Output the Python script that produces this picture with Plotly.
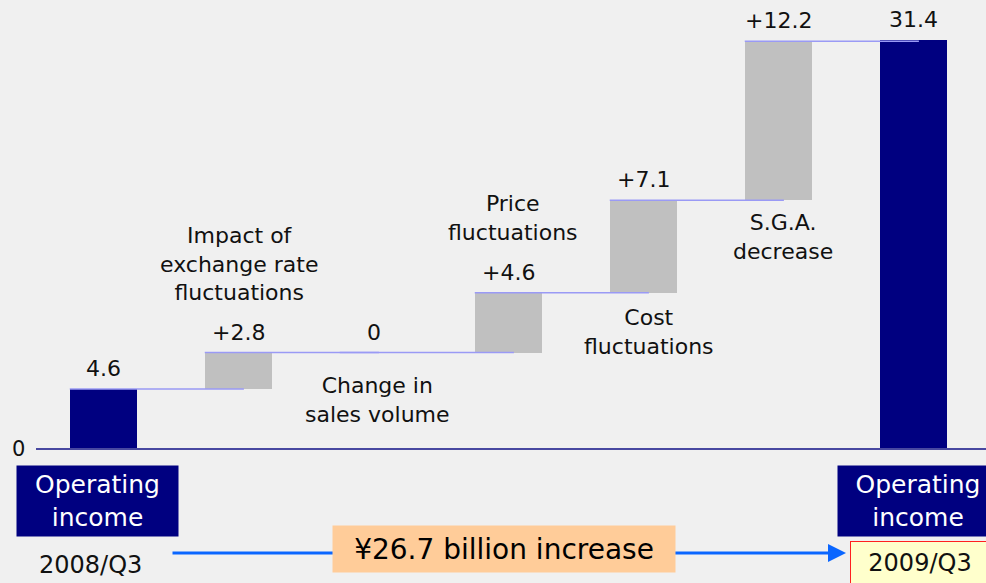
import plotly.graph_objects as go

# ---- data ----
categories = ["Operating income 2008/Q3", "Impact of exchange rate fluctuations",
              "Change in sales volume", "Price fluctuations", "Cost fluctuations",
              "S.G.A. decrease", "Operating income 2009/Q3"]
measures = ["absolute", "relative", "relative", "relative", "relative", "relative", "total"]
values = [4.6, 2.8, 0.0, 4.6, 7.1, 12.2, 31.4]
value_labels = ["4.6", "+2.8", "0", "+4.6", "+7.1", "+12.2", "31.4"]
step_labels = ["", "Impact of<br>exchange rate<br>fluctuations", "Change in<br>sales volume",
               "Price<br>fluctuations", "Cost<br>fluctuations", "S.G.A.<br>decrease", ""]
box_label = "Operating<br>income"
period_start = "2008/Q3"
period_end = "2009/Q3"
increase_label = "¥26.7 billion increase"

# ---- derived geometry ----
W, H = 986, 583
bases, tops = [], []
run = 0.0
for m, v in zip(measures, values):
    if m == "relative":
        bases.append(run)
        run += v
        tops.append(run)
    else:
        bases.append(0.0)
        tops.append(v)
        run = v
heights = [t - b for t, b in zip(tops, bases)]
xs = list(range(len(values)))

NAVY = "#000080"
GRAY = "#c0c0c0"
colors = [NAVY if m != "relative" else GRAY for m in measures]

FONT = "DejaVu Sans"
TXT = "#111111"

# pixel <-> data mapping: centre of first bar at 103.5px, spacing 135px
X0PX, DXPX = 103.5, 135.0
Y0PX, DYPX = 449.0, 13.025
x_range = [(0 - X0PX) / DXPX, (W - X0PX) / DXPX]
y_range = [-(H - Y0PX) / DYPX, Y0PX / DYPX]

def px(xp):
    return xp / W

def py(yp):
    return 1 - yp / H

fig = go.Figure()
fig.add_trace(go.Bar(x=xs, y=heights, base=bases, width=0.5,
                     marker=dict(color=colors, line=dict(width=0)),
                     hoverinfo="skip", showlegend=False))

shapes = []
# connectors
for i in range(len(values) - 1):
    lvl = tops[i]
    shapes.append(dict(type="line", xref="x", yref="y", x0=xs[i] - 0.25, x1=xs[i + 1] + 0.04,
                       y0=lvl, y1=lvl, line=dict(color="#9a9af5", width=1.5), layer="above"))
# baseline axis
shapes.append(dict(type="line", xref="paper", yref="y", x0=px(36), x1=1, y0=0, y1=0,
                   line=dict(color="#4848a0", width=2)))

C = dict(xanchor="center", yanchor="middle")
annotations = []
# value labels
for i in range(len(values)):
    annotations.append(dict(x=xs[i], y=tops[i], xref="x", yref="y", text=value_labels[i],
                            showarrow=False, xanchor="center", yanchor="bottom", yshift=6,
                            font=dict(family=FONT, size=22, color=TXT)))
# step labels: above or below the bar, pixel offsets
step_pos = [None, ("above", 46), ("below", 18), ("above", 46), ("below", 10), ("below", 8), None]
step_dx = [0, 0, 4, 4, 5, 4, 0]
for i, lab in enumerate(step_labels):
    if not lab:
        continue
    where, off = step_pos[i]
    if where == "above":
        annotations.append(dict(x=xs[i], y=tops[i], xref="x", yref="y", text=lab, showarrow=False,
                                xanchor="center", yanchor="bottom", yshift=off, xshift=step_dx[i],
                                font=dict(family=FONT, size=22, color=TXT)))
    else:
        annotations.append(dict(x=xs[i], y=bases[i], xref="x", yref="y", text=lab, showarrow=False,
                                xanchor="center", yanchor="top", yshift=-off, xshift=step_dx[i],
                                font=dict(family=FONT, size=22, color=TXT)))
# zero tick label
annotations.append(dict(x=px(18), y=0, xref="paper", yref="y", text="0", showarrow=False, **C,
                        font=dict(family=FONT, size=21, color=TXT)))
# bottom boxes
annotations.append(dict(x=px(97.5), y=py(501), xref="paper", yref="paper", text=box_label,
                        showarrow=False, bgcolor=NAVY, width=161, height=70, borderpad=0, **C,
                        font=dict(family=FONT, size=25, color="white")))
annotations.append(dict(x=px(918), y=py(501), xref="paper", yref="paper", text=box_label,
                        showarrow=False, bgcolor=NAVY, width=160, height=70, borderpad=0, **C,
                        font=dict(family=FONT, size=25, color="white")))
annotations.append(dict(x=px(90), y=py(565), xref="paper", yref="paper", text=period_start,
                        showarrow=False, **C, font=dict(family=FONT, size=24, color=TXT)))
# arrow
annotations.append(dict(x=px(846), y=py(553), xref="paper", yref="paper", text="",
                        showarrow=True, ax=171 - 846, ay=0, axref="pixel", ayref="pixel",
                        arrowhead=2, arrowsize=1.2, arrowwidth=3, arrowcolor="#0a66ff"))
annotations.append(dict(x=px(504), y=py(549), xref="paper", yref="paper", text=increase_label,
                        showarrow=False, bgcolor="#ffcc99", width=340, height=44, borderpad=1, **C,
                        font=dict(family=FONT, size=28, color="#000000")))
annotations.append(dict(x=px(920), y=py(563), xref="paper", yref="paper", text=period_end,
                        showarrow=False, bgcolor="#ffffcc", bordercolor="#ff2020", borderwidth=1,
                        width=138, height=42, borderpad=0, **C,
                        font=dict(family=FONT, size=24, color=TXT)))

fig.update_layout(
    width=W, height=H,
    margin=dict(l=0, r=0, t=0, b=0),
    paper_bgcolor="#f0f0f0", plot_bgcolor="#f0f0f0",
    xaxis=dict(range=x_range, visible=False, fixedrange=True),
    yaxis=dict(range=y_range, visible=False, fixedrange=True),
    shapes=shapes, annotations=annotations,
    bargap=0, showlegend=False,
)

fig.write_html("out.html", config={"displayModeBar": False},
               post_script="document.body.style.margin='0';document.body.style.overflow='hidden';")
